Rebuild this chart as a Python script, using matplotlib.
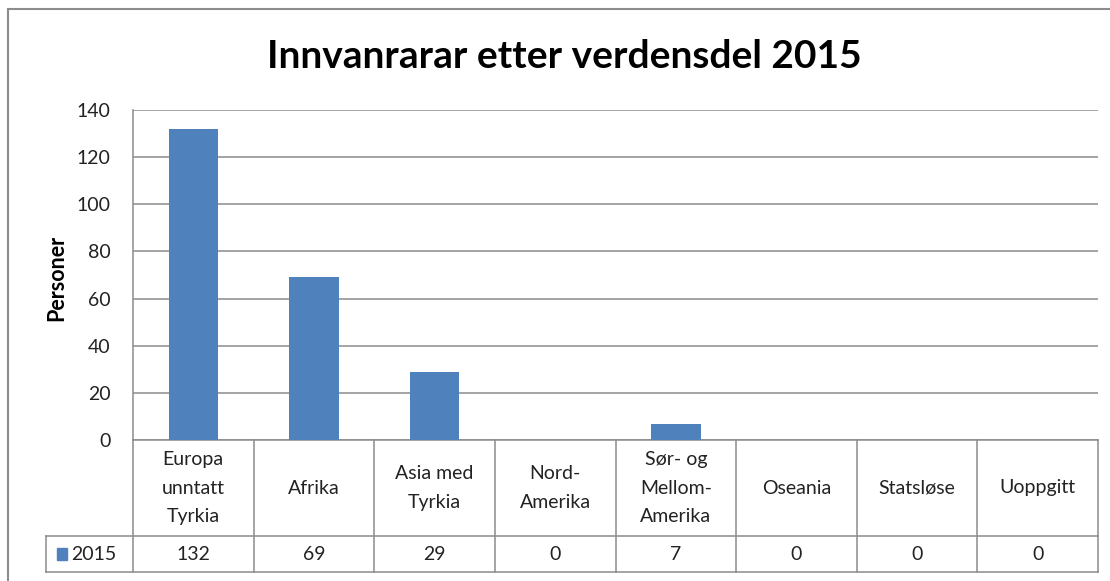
import matplotlib.pyplot as plt
import matplotlib.transforms as mtransforms
from matplotlib.lines import Line2D
from matplotlib.patches import Rectangle

plt.rcParams['font.family'] = ['Lato', 'DejaVu Sans']

categories = ['Europa\nunntatt\nTyrkia', 'Afrika', 'Asia med\nTyrkia', 'Nord-\nAmerika',
              'Sør- og\nMellom-\nAmerika', 'Oseania', 'Statsløse', 'Uoppgitt']
values = [132, 69, 29, 0, 7, 0, 0, 0]
series_name = '2015'
yticks = [0, 20, 40, 60, 80, 100, 120, 140]

bar_color = '#4F81BD'
grid_color = '#8C8C8C'
text_color = '#222222'

W, H = 1110, 581
fig = plt.figure(figsize=(W / 100, H / 100), dpi=100)

# plot area in pixels
left, right, top, bottom = 133, 1098, 110, 440
ax = fig.add_axes([left / W, 1 - bottom / H, (right - left) / W, (bottom - top) / H])

x = list(range(len(categories)))
ax.bar(x, values, width=0.41, color=bar_color, zorder=3)
ax.set_xlim(-0.5, len(categories) - 0.5)
ax.set_ylim(0, 140)
ax.set_yticks(yticks)
ax.set_xticks([])
ax.tick_params(axis='y', length=0, pad=16, labelsize=14, colors=text_color)
ax.grid(axis='y', color=grid_color, linewidth=1.1, zorder=0)
for s in ['top', 'right', 'bottom']:
    ax.spines[s].set_visible(False)
ax.spines['left'].set_color(grid_color)
ax.spines['left'].set_linewidth(1.1)
ax.set_ylabel('Personer', fontsize=15.5, fontweight='bold')
ax.yaxis.set_label_coords((67 - left) / (right - left), 0.49)

# data table under the axis
trans = mtransforms.blended_transform_factory(ax.transData, ax.transAxes)
h = bottom - top
row1 = -(536 - bottom) / h
row2 = -(572 - bottom) / h
xl = -0.5
xr = len(categories) - 0.5
legend_left = xl - (left - 46) / ((right - left) / len(categories))

lw = 1.1
ax.add_line(Line2D([xl, xr], [0, 0], transform=trans, color=grid_color, lw=lw, clip_on=False))
ax.add_line(Line2D([legend_left, xr], [row1, row1], transform=trans, color=grid_color, lw=lw, clip_on=False))
ax.add_line(Line2D([legend_left, xr], [row2, row2], transform=trans, color=grid_color, lw=lw, clip_on=False))
ax.add_line(Line2D([legend_left, legend_left], [row1, row2], transform=trans, color=grid_color, lw=lw, clip_on=False))
for i in range(len(categories) + 1):
    xv = i - 0.5
    ax.add_line(Line2D([xv, xv], [0, row2], transform=trans, color=grid_color, lw=lw, clip_on=False))

for i, (cat, val) in enumerate(zip(categories, values)):
    ax.text(i, row1 / 2, cat, transform=trans, ha='center', va='center',
            fontsize=14, linespacing=1.8, color=text_color, clip_on=False)
    ax.text(i, (row1 + row2) / 2, str(val), transform=trans, ha='center', va='center',
            fontsize=14, color=text_color, clip_on=False)

# legend key in table
fig.patches.append(Rectangle((57 / W, 1 - 560 / H), 10 / W, 12 / H,
                             transform=fig.transFigure, color=bar_color))
fig.text(71 / W, 1 - 554 / H, series_name, ha='left', va='center', fontsize=14, color=text_color)

# title
fig.text(564 / W, 1 - 56 / H, 'Innvanrarar etter verdensdel 2015', ha='center', va='center',
         fontsize=28, fontweight='bold')

# chart border
fig.lines.append(Line2D([8 / W, 8 / W], [0, 1 - 9 / H], transform=fig.transFigure, color='#8C8C8C', lw=1.5))
fig.lines.append(Line2D([8 / W, 1], [1 - 9 / H, 1 - 9 / H], transform=fig.transFigure, color='#8C8C8C', lw=1.5))

fig.savefig('out.png', dpi=100)
